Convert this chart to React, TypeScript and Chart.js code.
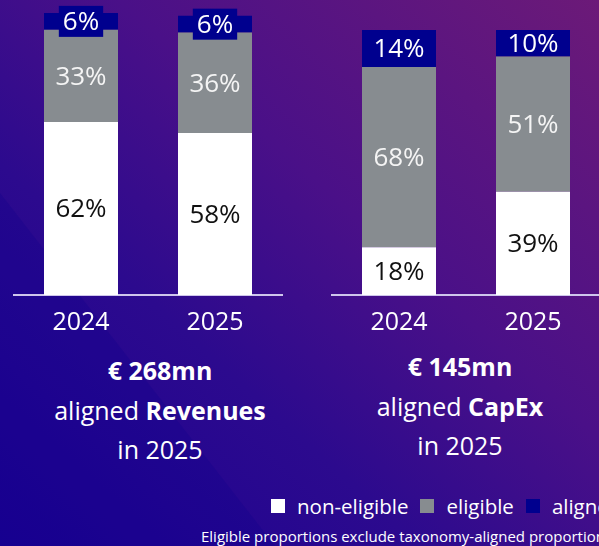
import React, { useEffect, useRef } from "react";
import { Chart, registerables } from "chart.js";

Chart.register(...registerables);

const categories = ["2024", "2025"];
const seriesLabels = ["non-eligible", "eligible", "aligned"];
const seriesColors = ["#ffffff", "#878c90", "#00008e"];
const labelColors = ["#111111", "#f4f4f4", "#ffffff"];

const revenuesNonEligible = [62, 58];
const revenuesEligible = [33, 36];
const revenuesAligned = [6, 6];

const capexNonEligible = [18, 39];
const capexEligible = [68, 51];
const capexAligned = [14, 10];

const FONT = "'Open Sans', 'Noto Sans', sans-serif";

const labelPlugin = {
  id: "segLabels",
  afterDatasetsDraw(chart: any) {
    const ctx = chart.ctx;
    ctx.save();
    ctx.font = `26px ${FONT}`;
    ctx.textAlign = "center";
    ctx.textBaseline = "middle";
    chart.data.datasets.forEach((ds: any, di: number) => {
      const meta = chart.getDatasetMeta(di);
      meta.data.forEach((el: any, i: number) => {
        const { x, y, base } = el.getProps(["x", "y", "base"], true);
        const cy = (y + base) / 2;
        const txt = ds.data[i] + "%";
        const h = Math.abs(base - y);
        if (h < 22) {
          const w = ctx.measureText(txt).width + 8;
          ctx.fillStyle = seriesColors[di];
          ctx.fillRect(x - w / 2, cy - 15.5, w, 31);
        }
        ctx.fillStyle = labelColors[di];
        ctx.fillText(txt, x, cy + 1.5);
      });
    });
    ctx.restore();
  },
};

function makeConfig(a: number[], b: number[], c: number[], yMax: number, padTop: number, padLeft: number, padRight: number) {
  const series = [a, b, c];
  return {
    type: "bar",
    data: {
      labels: categories,
      datasets: series.map((d, i) => ({
        label: seriesLabels[i],
        data: d,
        backgroundColor: seriesColors[i],
        borderWidth: 0,
        barPercentage: 74 / 134,
        categoryPercentage: 1,
      })),
    },
    options: {
      responsive: false,
      animation: false,
      devicePixelRatio: 1,
      layout: { padding: { top: padTop, left: padLeft, right: padRight, bottom: 0 } },
      plugins: { legend: { display: false }, tooltip: { enabled: false } },
      scales: {
        x: {
          stacked: true,
          grid: { display: false, drawTicks: false },
          border: { display: true, color: "#cfc6ec", width: 2 },
          ticks: { color: "#ffffff", font: { family: FONT, size: 25 }, padding: 13 },
          afterFit: (s: any) => {
            s.height = 50;
          },
        },
        y: { stacked: true, display: false, min: 0, max: yMax },
      },
    },
    plugins: [labelPlugin],
  };
}

function BarChart(props: { config: any; width: number; height: number; left: number }) {
  const ref = useRef<HTMLCanvasElement | null>(null);
  useEffect(() => {
    if (!ref.current) return;
    const chart = new Chart(ref.current, props.config);
    return () => chart.destroy();
  }, []);
  return (
    <canvas
      ref={ref}
      width={props.width}
      height={props.height}
      style={{ position: "absolute", left: props.left, top: 0, width: props.width, height: props.height }}
    />
  );
}

const textStyle: React.CSSProperties = {
  position: "absolute",
  textAlign: "center",
  color: "#ffffff",
  fontFamily: FONT,
  fontSize: 25,
  lineHeight: "39.5px",
  whiteSpace: "nowrap",
};

export default function App() {
  const leftCfg = makeConfig(revenuesNonEligible, revenuesEligible, revenuesAligned, 101, 13, 14, 18);
  const rightCfg = makeConfig(capexNonEligible, capexEligible, capexAligned, 100, 30, 32, 0);
  return (
    <div
      style={{
        position: "fixed",
        left: 0,
        top: 0,
        width: 599,
        height: 546,
        overflow: "hidden",
        background: "linear-gradient(to top right, #1a0092 0%, #2c0a8e 35%, #4a1088 60%, #6c1a78 100%)",
        fontFamily: FONT,
      }}
    >
      <div
        style={{
          position: "absolute",
          inset: 0,
          background: "rgba(15,0,140,0.28)",
          clipPath: "polygon(0px 193px, 275px 546px, 0px 546px)",
        }}
      />
      <BarChart config={leftCfg} width={300} height={345} left={0} />
      <BarChart config={rightCfg} width={300} height={345} left={300} />

      <div style={{ ...textStyle, left: 20, width: 280, top: 351 }}>
        <div style={{ fontWeight: 700 }}>€ 268mn</div>
        <div>
          aligned <b>Revenues</b>
        </div>
        <div>in 2025</div>
      </div>
      <div style={{ ...textStyle, left: 320, width: 280, top: 347 }}>
        <div style={{ fontWeight: 700 }}>€ 145mn</div>
        <div>
          aligned <b>CapEx</b>
        </div>
        <div>in 2025</div>
      </div>

      <div
        style={{
          position: "absolute",
          left: 271,
          top: 494,
          height: 24,
          display: "flex",
          alignItems: "center",
          whiteSpace: "nowrap",
          color: "#ffffff",
          fontSize: 20.5,
          fontFamily: FONT,
        }}
      >
        {seriesLabels.map((l, i) => (
          <React.Fragment key={l}>
            <span style={{ display: "inline-block", width: 14, height: 14, background: seriesColors[i], marginRight: 12 }} />
            <span style={{ marginRight: 12 }}>{l}</span>
          </React.Fragment>
        ))}
      </div>
      <div
        style={{
          position: "absolute",
          left: 201,
          top: 527,
          whiteSpace: "nowrap",
          color: "#ffffff",
          fontSize: 15,
          lineHeight: "19px",
          fontFamily: FONT,
        }}
      >
        Eligible proportions exclude taxonomy-aligned proportions
      </div>
    </div>
  );
}
